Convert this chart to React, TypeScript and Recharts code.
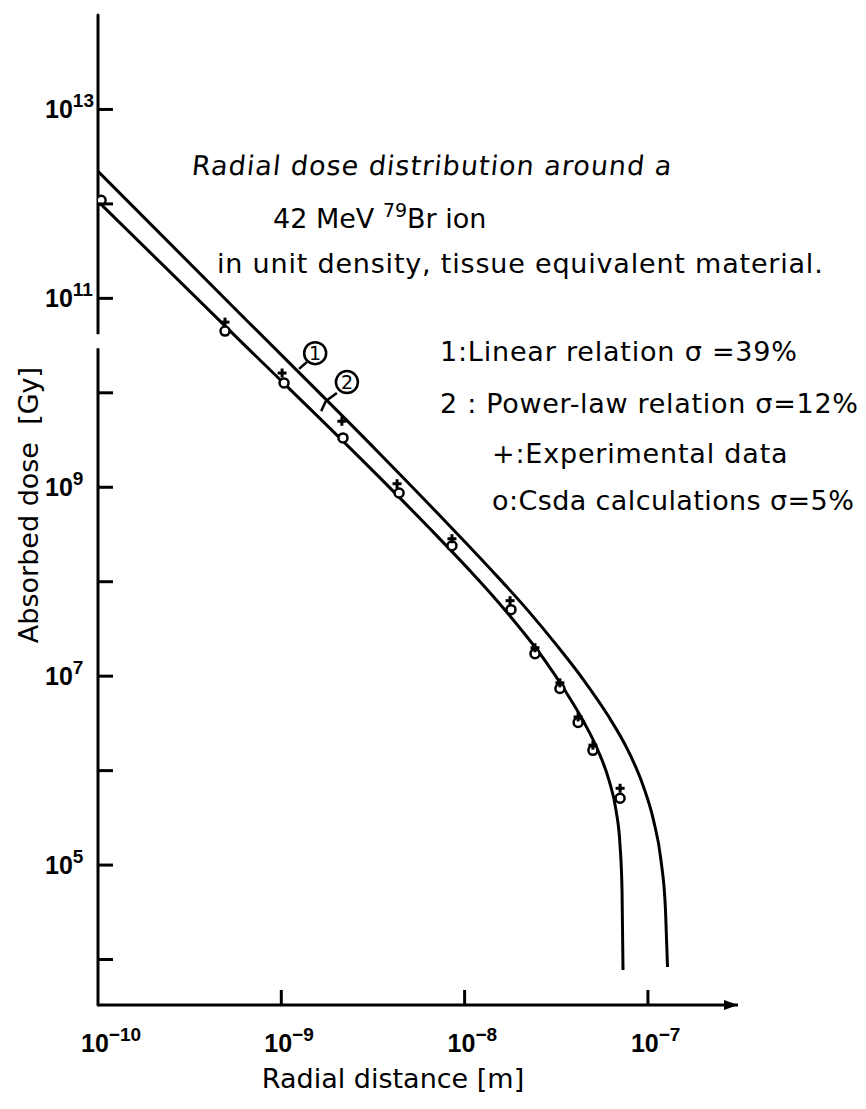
import React from "react";
import {
  ComposedChart, Line, Scatter, XAxis, YAxis, ReferenceDot, ReferenceLine,
} from "recharts";

// radial distance in metres, absorbed dose in Gy
const linearRelation = [
  { radius: 1.0e-10, dose: 2.21e12 },
  { radius: 5.876e-10, dose: 7.05e10 },
  { radius: 3.455e-9, dose: 2.25e9 },
  { radius: 7.34e-9, dose: 4.99e8 },
  { radius: 1.411e-8, dose: 1.307e8 },
  { radius: 2.218e-8, dose: 4.94e7 },
  { radius: 3.192e-8, dose: 2.106e7 },
  { radius: 4.481e-8, dose: 8.99e6 },
  { radius: 6.056e-8, dose: 3.83e6 },
  { radius: 7.786e-8, dose: 1.635e6 },
  { radius: 9.403e-8, dose: 6.976e5 },
  { radius: 1.073e-7, dose: 2.976e5 },
  { radius: 1.178e-7, dose: 1.124e5 },
  { radius: 1.247e-7, dose: 3.327e4 },
  { radius: 1.279e-7, dose: 8.32e3 },
];

const powerLawRelation = [
  { radius: 1.0e-10, dose: 1.064e12 },
  { radius: 5.876e-10, dose: 3.66e10 },
  { radius: 3.455e-9, dose: 1.256e9 },
  { radius: 6.48e-9, dose: 3.63e8 },
  { radius: 1.07e-8, dose: 1.306e8 },
  { radius: 1.502e-8, dose: 6.3e7 },
  { radius: 2.056e-8, dose: 3.034e7 },
  { radius: 2.746e-8, dose: 1.462e7 },
  { radius: 3.529e-8, dose: 7.045e6 },
  { radius: 4.425e-8, dose: 3.394e6 },
  { radius: 5.34e-8, dose: 1.635e6 },
  { radius: 6.135e-8, dose: 7.877e5 },
  { radius: 6.699e-8, dose: 3.796e5 },
  { radius: 7.044e-8, dose: 1.619e5 },
  { radius: 7.223e-8, dose: 5.414e4 },
  { radius: 7.314e-8, dose: 7.73e3 },
];

const csdaPoints = [
  { radius: 1.04e-10, dose: 1.09e12 },
  { radius: 4.93e-10, dose: 4.5e10 },
  { radius: 1.035e-9, dose: 1.27e10 },
  { radius: 2.17e-9, dose: 3.33e9 },
  { radius: 4.39e-9, dose: 8.7e8 },
  { radius: 8.53e-9, dose: 2.4e8 },
  { radius: 1.79e-8, dose: 5.06e7 },
  { radius: 2.42e-8, dose: 1.73e7 },
  { radius: 3.31e-8, dose: 7.4e6 },
  { radius: 4.16e-8, dose: 3.24e6 },
  { radius: 5.01e-8, dose: 1.64e6 },
  { radius: 7.05e-8, dose: 5.1e5 },
];

const experimentalPoints = [
  { radius: 4.93e-10, dose: 5.6e10 },
  { radius: 1.01e-9, dose: 1.62e10 },
  { radius: 2.14e-9, dose: 5.0e9 },
  { radius: 4.28e-9, dose: 1.09e9 },
  { radius: 8.53e-9, dose: 2.85e8 },
  { radius: 1.77e-8, dose: 6.3e7 },
  { radius: 2.42e-8, dose: 2.0e7 },
  { radius: 3.31e-8, dose: 8.5e6 },
  { radius: 4.16e-8, dose: 3.7e6 },
  { radius: 5.01e-8, dose: 1.86e6 },
  { radius: 7.05e-8, dose: 6.5e5 },
];

const radiusTicks = [1e-10, 1e-9, 1e-8, 1e-7];
const doseTicks = [1e4, 1e5, 1e6, 1e7, 1e8, 1e9, 1e10, 1e11, 1e12, 1e13];

const radiusDomain = [1e-10, 3.1e-7];
const doseDomain = [3.3e3, 1e14];

// break in the dose axis line
const axisGap = { top: 4.17e10, bottom: 2.98e10 };

const FONT = "'DejaVu Sans', 'Liberation Sans', sans-serif";
const TICK_FONT = "'Liberation Sans Narrow', 'Liberation Sans', sans-serif";
const INK = "#000";

const DoseTick = (props: any) => {
  const { x, y, payload } = props;
  const exp = Math.round(Math.log10(payload.value));
  return (
    <g>
      <line x1={x} y1={y} x2={x + 15} y2={y} stroke={INK} strokeWidth={3} />
      {exp % 2 === 1 && (
        <text x={x - 53} y={y + 9} fontSize={25} fontWeight={600} fontFamily={TICK_FONT} fill={INK}>
          10<tspan dy={-11} fontSize={19}>{exp}</tspan>
        </text>
      )}
    </g>
  );
};

const RadiusTick = (props: any) => {
  const { x, y, payload } = props;
  const exp = Math.round(Math.log10(payload.value));
  return (
    <g>
      {exp > -10 && <line x1={x} y1={y} x2={x} y2={y - 15} stroke={INK} strokeWidth={3} />}
      <text x={x - 17} y={y + 47} fontSize={25} fontWeight={600} fontFamily={TICK_FONT} fill={INK}>
        10<tspan dy={-11} fontSize={19}>{"\u2212" + Math.abs(exp)}</tspan>
      </text>
    </g>
  );
};

const OpenCircle = (p: any) => (
  <circle cx={p.cx} cy={p.cy} r={4.5} fill="#fff" stroke={INK} strokeWidth={2.5} />
);

const Cross = (p: any) => (
  <g stroke={INK} strokeWidth={3}>
    <line x1={p.cx - 4.5} y1={p.cy} x2={p.cx + 4.5} y2={p.cy} />
    <line x1={p.cx} y1={p.cy - 4.5} x2={p.cx} y2={p.cy + 4.5} />
  </g>
);

const numberedBadge = (n: number) => (p: any) => (
  <g>
    <circle cx={p.cx} cy={p.cy} r={11} fill="#fff" stroke={INK} strokeWidth={2.5} />
    <text x={p.cx} y={p.cy + 7} textAnchor="middle" fontSize={19} fontFamily={FONT} fill={INK}>{n}</text>
  </g>
);

const ArrowHead = (p: any) => (
  <polygon points={`${p.cx},${p.cy} ${p.cx - 14},${p.cy - 5} ${p.cx - 14},${p.cy + 5}`} fill={INK} />
);

function Label({ left, cy, size = 27, spacing = 0, slant = 0, children }: any) {
  return (
    <div
      style={{
        position: "absolute", left, top: cy - size * 0.62, fontSize: size, letterSpacing: spacing,
        lineHeight: `${size * 1.2}px`, fontFamily: FONT, whiteSpace: "nowrap", color: INK,
        transform: slant ? `skewX(${-slant}deg)` : undefined,
      }}
    >
      {children}
    </div>
  );
}

export default function App() {
  return (
    <div style={{ position: "absolute", left: 0, top: 0, width: 866, height: 1109, background: "#fff" }}>
      <ComposedChart width={866} height={1109} margin={{ top: 15, right: 128, bottom: 44, left: 38 }}>
        <XAxis
          type="number" dataKey="radius" scale="log" domain={radiusDomain} allowDataOverflow
          ticks={radiusTicks} interval={0} tick={<RadiusTick />} tickLine={false}
          tickSize={0} tickMargin={0} height={60}
          axisLine={{ stroke: INK, strokeWidth: 3 }}
        />
        <YAxis
          type="number" dataKey="dose" scale="log" domain={doseDomain} allowDataOverflow
          ticks={doseTicks} interval={0} tick={<DoseTick />} tickLine={false}
          tickSize={0} tickMargin={0} width={60}
          axisLine={{ stroke: INK, strokeWidth: 3, strokeLinecap: "round" }}
        />

        <Line data={linearRelation} dataKey="dose" type="monotone" stroke={INK} strokeWidth={3}
          dot={false} isAnimationActive={false} />
        <Line data={powerLawRelation} dataKey="dose" type="monotone" stroke={INK} strokeWidth={3}
          dot={false} isAnimationActive={false} />

        <Scatter data={csdaPoints} dataKey="dose" shape={OpenCircle} isAnimationActive={false} />
        <Scatter data={experimentalPoints} dataKey="dose" shape={Cross} isAnimationActive={false} />

        {/* curve labels with leaders */}
        <ReferenceLine segment={[{ x: 1.38e-9, y: 2.12e10 }, { x: 1.25e-9, y: 1.79e10 }]}
          stroke={INK} strokeWidth={2.5} />
        <ReferenceLine segment={[{ x: 2.01e-9, y: 9.96e9 }, { x: 1.75e-9, y: 8.2e9 }]}
          stroke={INK} strokeWidth={2.5} />
        <ReferenceLine segment={[{ x: 1.75e-9, y: 8.2e9 }, { x: 1.65e-9, y: 6.4e9 }]}
          stroke={INK} strokeWidth={2.5} />
        <ReferenceDot x={1.53e-9} y={2.63e10} shape={numberedBadge(1)} ifOverflow="visible" />
        <ReferenceDot x={2.28e-9} y={1.3e10} shape={numberedBadge(2)} ifOverflow="visible" />

        <ReferenceDot x={3.1e-7} y={3.3e3} shape={ArrowHead} ifOverflow="visible" />
        <ReferenceDot
          x={1e-10} y={axisGap.top} ifOverflow="visible"
          shape={(p: any) => <rect x={p.cx - 3} y={p.cy} width={6} height={14} fill="#fff" />}
        />
      </ComposedChart>

      <Label left={192} cy={167} spacing={1} slant={6}>Radial dose distribution around a</Label>
      <Label left={273} cy={220}>
        42 MeV <span style={{ fontSize: 19, position: "relative", top: -11 }}>79</span>Br ion
      </Label>
      <Label left={217} cy={265} spacing={0.8}>in unit density, tissue equivalent material.</Label>

      <Label left={440} cy={353} spacing={0.8}>1:Linear relation σ =39%</Label>
      <Label left={440} cy={405} spacing={0.7}>2 : Power-law relation σ=12%</Label>
      <Label left={492} cy={455} spacing={0.8}>+:Experimental data</Label>
      <Label left={492} cy={502} spacing={0.4}>o:Csda calculations σ=5%</Label>

      <div
        style={{
          position: "absolute", left: 28, top: 505, transform: "translate(-50%, -50%) rotate(-90deg)",
          fontSize: 27, fontFamily: FONT, whiteSpace: "nowrap", color: INK,
        }}
      >
        Absorbed dose&nbsp;&nbsp;[Gy]
      </div>
      <div
        style={{
          position: "absolute", left: 393, top: 1078, transform: "translate(-50%, -50%)",
          fontSize: 27, fontFamily: FONT, whiteSpace: "nowrap", color: INK,
        }}
      >
        Radial distance [m]
      </div>
    </div>
  );
}
